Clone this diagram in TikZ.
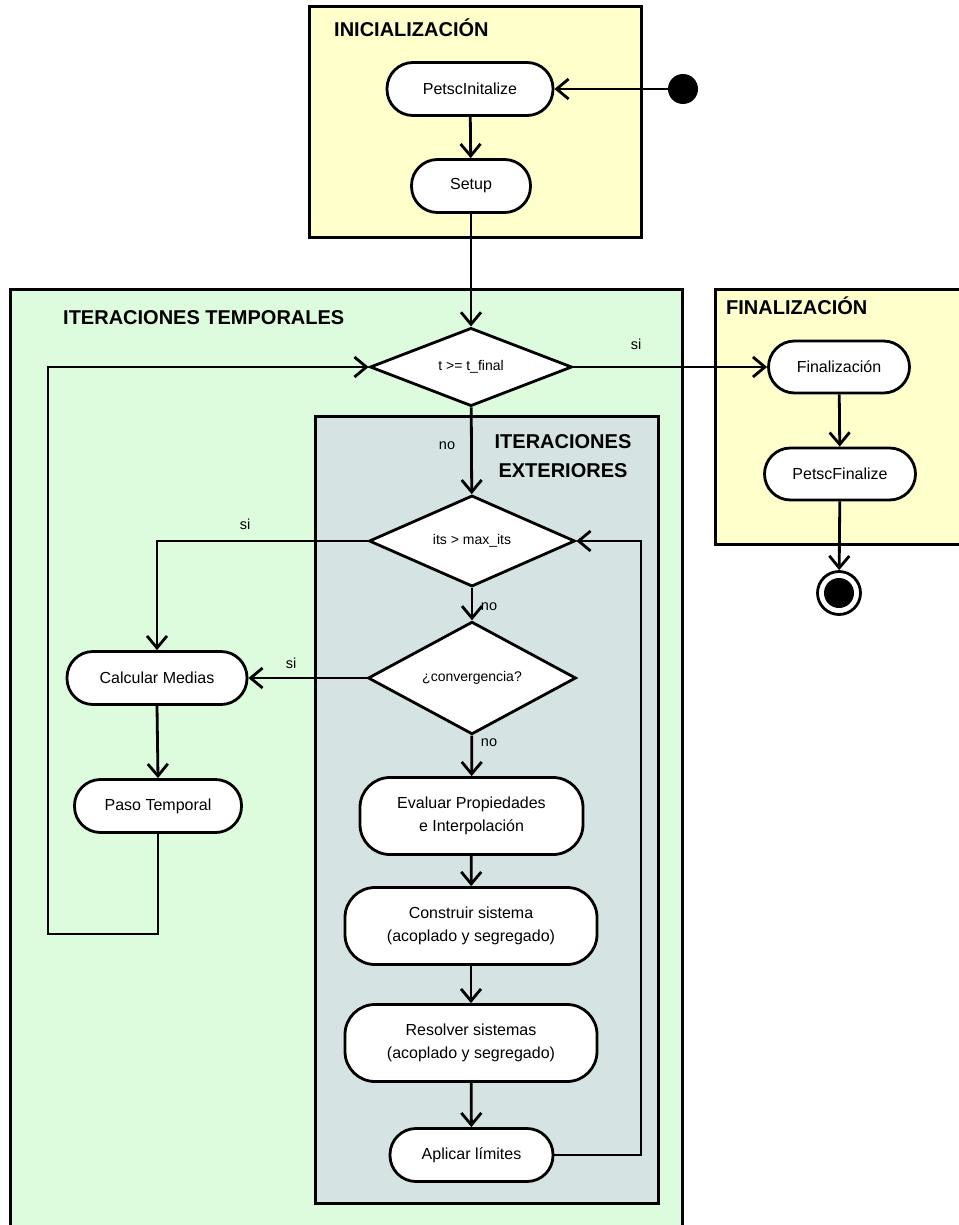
\documentclass[tikz,border=0pt]{standalone}
\usepackage{fontspec}
\setmainfont{Liberation Sans}
\usetikzlibrary{shapes.geometric,arrows.meta}
\definecolor{phaseyellow}{HTML}{FFFFCC}
\definecolor{phasegreen}{HTML}{DDFCDD}
\definecolor{phaseblue}{HTML}{D6E3E3}
\begin{document}
\begin{tikzpicture}[x=1pt,y=-1pt,
  act/.style={draw, line width=2.8pt, fill=white, rounded corners=26pt,
    minimum height=53pt, inner sep=0pt, font=\fontsize{16}{19}\selectfont},
  act2/.style={act, rounded corners=30pt, minimum height=77pt, align=center,
    font=\fontsize{16}{23}\selectfont},
  dec/.style={draw, diamond, line width=2.8pt, fill=white, inner sep=0pt,
    font=\fontsize{14}{17}\selectfont},
  region/.style={draw, line width=3pt},
  title/.style={font=\bfseries\fontsize{20}{29}\selectfont, inner sep=0pt},
  lbl/.style={font=\fontsize{14.5}{17}\selectfont, inner sep=0pt},
  flow/.style={line width=2.8pt, -{Straight Barb[length=12pt,width=20pt]}},
]
\fill[white] (0,0) rectangle (958,1225);
\useasboundingbox (0,0) rectangle (958,1225);

% phase containers
\draw[region, fill=phasegreen] (10,289) rectangle (682,1232);
\draw[region, fill=phaseblue] (315,416) rectangle (658,1203);
\draw[region, fill=phaseyellow] (309,7) rectangle (641,237);
\draw[region, fill=phaseyellow] (715,289) rectangle (962,544);

% container titles
\node[title, anchor=west] (tInit) at (334,28) {INICIALIZACIÓN};
\node[title, anchor=west] (tTemp) at (63,318) {ITERACIONES TEMPORALES};
\node[title, anchor=west] (tFin) at (726,306) {FINALIZACIÓN};
\node[title, align=center] (tExt) at (563,456) {ITERACIONES\\EXTERIORES};

% initialisation
\node[circle, fill=black, minimum size=30pt, inner sep=0pt] (start) at (683,89) {};
\node[act, minimum width=166pt] (init) at (470,89) {PetscInitalize};
\node[act, minimum width=119pt] (setup) at (471,186) {Setup};

% time loop
\node[dec, minimum width=202pt, minimum height=74pt] (tfin) at (471,367) {t >= t\_final};
\node[act, minimum width=180pt] (medias) at (157,678) {Calcular Medias};
\node[act, minimum width=167pt] (paso) at (158,806) {Paso Temporal};

% outer iterations
\node[dec, minimum width=206pt, minimum height=87pt] (its) at (472,541) {its > max\_its};
\node[dec, minimum width=208pt, minimum height=88pt] (conv) at (472,678) {¿convergencia?};
\node[act2, minimum width=223pt] (eval) at (471.5,816) {Evaluar Propiedades\\e Interpolación};
\node[act2, minimum width=252pt] (cons) at (471,926) {Construir sistema\\(acoplado y segregado)};
\node[act2, minimum width=252pt] (res) at (471,1043) {Resolver sistemas\\(acoplado y segregado)};
\node[act, minimum width=163pt] (apl) at (471.5,1155) {Aplicar límites};

% finalisation
\node[act, minimum width=141pt, minimum height=52pt] (fin) at (839,367) {Finalización};
\node[act, minimum width=151pt, minimum height=52pt] (pfin) at (840,474) {PetscFinalize};
\node[circle, draw, line width=2.8pt, minimum size=43pt, inner sep=0pt] (end) at (839,593) {};
\fill[black] (end.center) circle (15pt);

% connectors
\coordinate (loopBL) at (48,934);
\coordinate (ret) at (641,1155);
\draw[flow] (start) -- (init);
\draw[flow] (init) -- (setup);
\draw[flow] (setup) -- (tfin);
\draw[flow] (tfin) -- (fin);
\draw[flow] (fin) -- (pfin);
\draw[flow] (pfin) -- (end);
\draw[flow] (tfin) -- (its);
\draw[flow] (its) -- (conv);
\draw[flow] (its.west) -| (medias.north);
\draw[flow] (conv) -- (medias);
\draw[flow] (medias.south) -- (paso.north);
\draw[flow] (paso.south) |- (loopBL) |- (tfin.west);
\draw[flow] (conv) -- (eval);
\draw[flow] (eval) -- (cons);
\draw[flow] (cons) -- (res);
\draw[flow] (res) -- (apl);
\draw[flow] (apl.east) -- (ret) |- (its.east);

% branch labels
\node[lbl] (lSi1) at (636,344) {si};
\node[lbl] (lNo1) at (447,446) {no};
\node[lbl] (lSi2) at (245,524) {si};
\node[lbl] (lNo2) at (489,607) {no};
\node[lbl] (lSi3) at (291,663) {si};
\node[lbl] (lNo3) at (489,743) {no};
\end{tikzpicture}
\end{document}
